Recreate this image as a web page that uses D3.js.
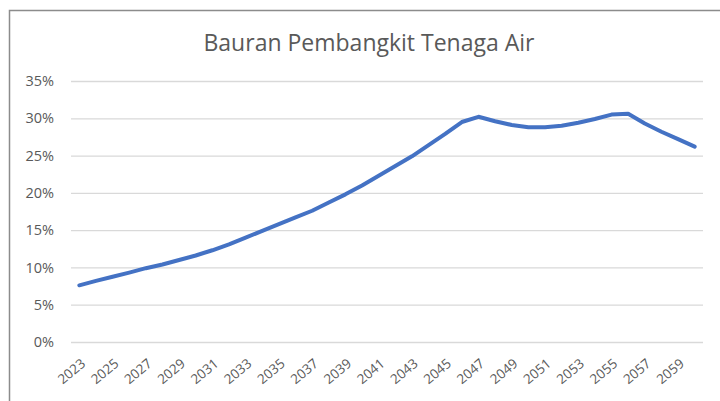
<!DOCTYPE html>
<html>
<head>
<meta charset="utf-8">
<script src="https://cdn.jsdelivr.net/npm/d3@7"></script>
<style>
  body { margin: 0; background: #fff; }
  svg { display: block; }
</style>
</head>
<body>
<script>
const width = 720
const height = 401
const margin = ({top: 81, right: 17, bottom: 59, left: 71})
const font = "'Open Sans', sans-serif"

const title = "Bauran Pembangkit Tenaga Air"

const years = d3.range(2023, 2061)
const share = [7.6, 8.2, 8.75, 9.3, 9.9, 10.4, 11.0, 11.6, 12.3, 13.1,
    14.0, 14.9, 15.8, 16.7, 17.6, 18.7, 19.8, 21.0, 22.3, 23.6,
    24.9, 26.4, 27.9, 29.5, 30.2, 29.6, 29.1, 28.8, 28.8, 29.0,
    29.4, 29.9, 30.5, 30.6, 29.3, 28.2, 27.2, 26.2]
const yTicks = [0, 5, 10, 15, 20, 25, 30, 35]

const data = years.map((yr, i) => ({year: yr, value: share[i]}))

const svg = d3.select("body").append("svg")
    .attr("width", width)
    .attr("height", height)

// chart frame
svg.append("path")
    .attr("d", `M9.5,${height}V10.5H${width}`)
    .attr("fill", "none")
    .attr("stroke", "#8c8c8c")
    .attr("stroke-width", 1.5)

const x = d3.scaleBand()
    .domain(years)
    .range([margin.left, width - margin.right])

const y = d3.scaleLinear()
    .domain([0, 35])
    .range([height - margin.bottom, margin.top])

svg.append("text")
    .attr("x", 369)
    .attr("y", 51)
    .attr("text-anchor", "middle")
    .attr("fill", "#595959")
    .attr("font-family", font)
    .attr("font-size", 23)
    .text(title)

const yAxis = g => g
    .attr("transform", `translate(${margin.left},0)`)
    .call(d3.axisLeft(y).tickValues(yTicks).tickFormat(d => d + "%").tickSize(0).tickPadding(17))
    .attr("font-family", font)
    .call(g => g.select(".domain").remove())
    .call(g => g.selectAll(".tick text").attr("fill", "#595959").attr("font-size", 14.5))
    .call(g => g.selectAll(".tick line").clone()
        .attr("stroke", "#d9d9d9")
        .attr("stroke-width", 1.3)
        .attr("x2", width - margin.left - margin.right))

svg.append("g").call(yAxis)

const xAxis = g => g
    .attr("transform", `translate(0,${height - margin.bottom})`)
    .call(d3.axisBottom(x).tickValues(years.filter((d, i) => i % 2 === 0)).tickSize(0))
    .attr("font-family", font)
    .call(g => g.select(".domain").remove())
    .call(g => g.selectAll(".tick text")
        .attr("fill", "#595959")
        .attr("font-size", 13.5)
        .attr("text-anchor", "end")
        .attr("dy", null)
        .attr("y", null)
        .attr("transform", "translate(7,23) rotate(-40)"))

svg.append("g").call(xAxis)

const line = d3.line()
    .x(d => x(d.year) + x.bandwidth() / 2)
    .y(d => y(d.value))

svg.append("path")
    .datum(data)
    .attr("fill", "none")
    .attr("stroke", "#4472c4")
    .attr("stroke-width", 4)
    .attr("stroke-linejoin", "round")
    .attr("stroke-linecap", "round")
    .attr("d", line)
</script>
</body>
</html>
